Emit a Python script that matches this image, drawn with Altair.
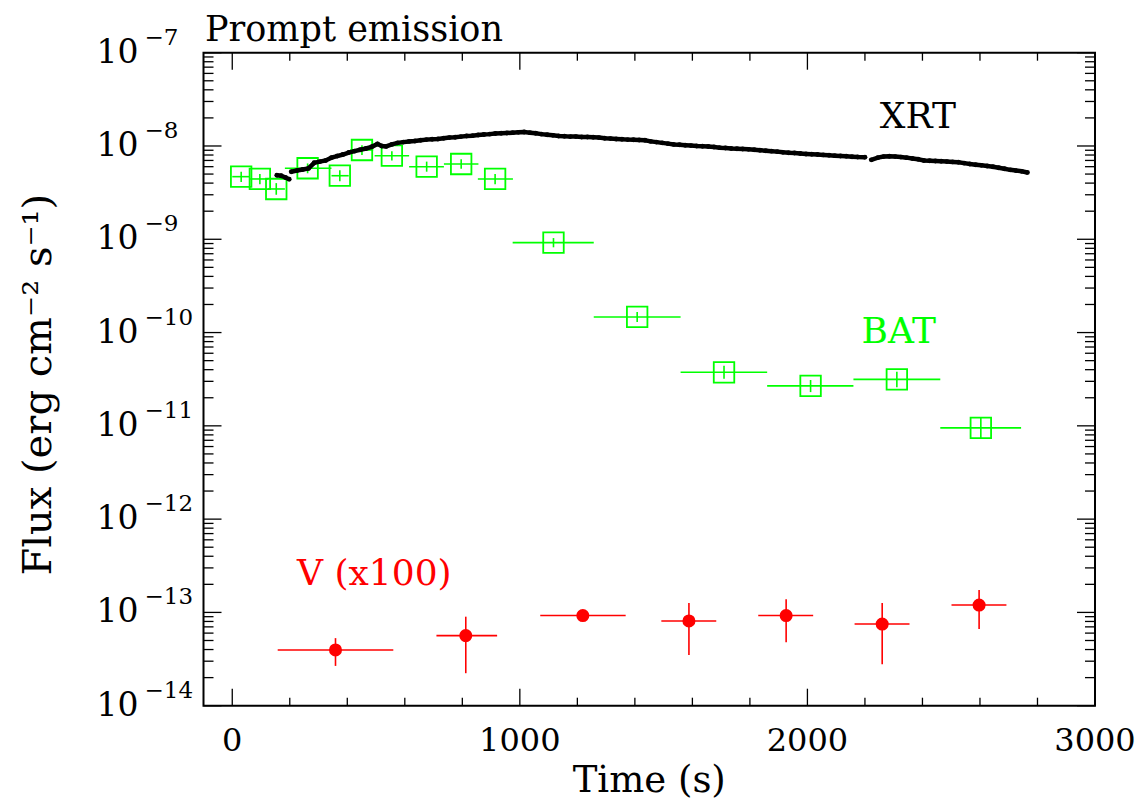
import altair as alt
import pandas as pd

# ---------------- data ----------------
# XRT light curve (time in s, flux in erg cm^-2 s^-1), seg = continuous piece
xrt_t = [155, 170, 185, 198,
         205, 225, 245, 265, 285, 305, 325, 345, 365, 385, 405, 425, 445, 465, 485,
         505, 520, 535, 555, 575, 595, 615, 635, 655, 675, 695, 715, 735, 755, 775,
         795, 815, 835, 855, 875, 895, 915, 935, 955, 975, 995, 1015, 1035, 1055,
         1075, 1095, 1115, 1135, 1155, 1175, 1195, 1215, 1235, 1255, 1275, 1295,
         1315, 1335, 1355, 1375, 1395, 1415, 1435, 1455, 1475, 1495, 1515, 1535,
         1555, 1575, 1595, 1615, 1635, 1655, 1675, 1695, 1715, 1735, 1755, 1775,
         1795, 1815, 1835, 1855, 1875, 1895, 1915, 1935, 1955, 1975, 1995, 2015,
         2035, 2055, 2075, 2095, 2115, 2135, 2155, 2175, 2200,
         2222, 2245, 2265, 2285, 2305, 2325, 2345, 2365, 2385, 2405, 2425, 2445,
         2465, 2485, 2505, 2525, 2545, 2565, 2585, 2605, 2625, 2645, 2665, 2685,
         2705, 2725, 2745, 2765]
xrt_f = [4.85e-9, 4.8e-9, 4.6e-9, 4.4e-9,
         5.3e-9, 5.45e-9, 5.6e-9, 5.75e-9, 6.6e-9, 6.8e-9, 7.0e-9, 7.5e-9, 7.8e-9,
         8.1e-9, 8.5e-9, 8.8e-9, 9.1e-9, 9.4e-9, 9.8e-9,
         1.05e-8, 1.0e-8, 9.9e-9, 1.04e-8, 1.08e-8, 1.10e-8, 1.12e-8, 1.13e-8,
         1.15e-8, 1.17e-8, 1.18e-8, 1.19e-8, 1.21e-8, 1.23e-8, 1.24e-8,
         1.26e-8, 1.28e-8, 1.29e-8, 1.31e-8, 1.33e-8, 1.34e-8, 1.36e-8, 1.37e-8,
         1.38e-8, 1.39e-8, 1.40e-8, 1.41e-8, 1.39e-8, 1.37e-8,
         1.34e-8, 1.32e-8, 1.30e-8, 1.28e-8, 1.27e-8, 1.26e-8, 1.26e-8, 1.25e-8,
         1.25e-8, 1.24e-8, 1.23e-8, 1.21e-8,
         1.20e-8, 1.19e-8, 1.18e-8, 1.17e-8, 1.165e-8, 1.16e-8, 1.15e-8, 1.12e-8,
         1.10e-8, 1.08e-8, 1.06e-8, 1.04e-8,
         1.03e-8, 1.02e-8, 1.01e-8, 1.0e-8, 9.95e-9, 9.88e-9, 9.75e-9, 9.6e-9,
         9.5e-9, 9.4e-9, 9.35e-9, 9.28e-9,
         9.2e-9, 9.1e-9, 9.0e-9, 8.9e-9, 8.8e-9, 8.7e-9, 8.55e-9, 8.45e-9,
         8.4e-9, 8.3e-9, 8.22e-9, 8.15e-9,
         8.1e-9, 8.02e-9, 7.95e-9, 7.88e-9, 7.82e-9, 7.75e-9, 7.68e-9, 7.62e-9, 7.58e-9,
         7.1e-9, 7.5e-9, 7.7e-9, 7.75e-9, 7.7e-9, 7.6e-9, 7.5e-9, 7.35e-9,
         7.2e-9, 7.0e-9, 6.95e-9, 6.9e-9,
         6.85e-9, 6.8e-9, 6.75e-9, 6.7e-9, 6.55e-9, 6.4e-9, 6.3e-9, 6.2e-9,
         6.1e-9, 6.0e-9, 5.85e-9, 5.7e-9,
         5.55e-9, 5.45e-9, 5.35e-9, 5.2e-9]
xrt_seg = [1] * 4 + [2] * 101 + [3] * 28

# BAT points
bat_t   = [31, 96, 153, 262, 374, 451, 555, 676, 796, 914, 1117, 1408, 1710, 2011, 2311, 2603]
bat_tlo = [0, 62, 125, 183, 345, 410, 495, 615, 736, 854, 975, 1257, 1559, 1860, 2160, 2462]
bat_thi = [62, 125, 183, 345, 405, 490, 615, 736, 856, 976, 1257, 1559, 1860, 2160, 2462, 2743]
bat_f   = [4.69e-9, 4.43e-9, 3.46e-9, 5.77e-9, 4.80e-9, 9.06e-9, 7.87e-9, 6.00e-9,
           6.41e-9, 4.43e-9, 9.2e-10, 1.47e-10, 3.75e-11, 2.68e-11, 3.15e-11, 9.5e-12]
bat_flo = [4.1e-9, 3.9e-9, 3.0e-9, 5.1e-9, 4.2e-9, 8.0e-9, 7.0e-9, 5.3e-9,
           5.7e-9, 3.9e-9, 8.2e-10, 1.3e-10, 3.2e-11, 2.3e-11, 2.6e-11, 7.4e-12]
bat_fhi = [5.3e-9, 5.0e-9, 4.0e-9, 6.5e-9, 5.5e-9, 1.02e-8, 8.8e-9, 6.8e-9,
           7.2e-9, 5.0e-9, 1.03e-9, 1.66e-10, 4.4e-11, 3.1e-11, 3.8e-11, 1.22e-11]

# V band (x100)
v_t   = [359, 812, 1219, 1588, 1926, 2260, 2597]
v_tlo = [158, 710, 1071, 1492, 1829, 2164, 2501]
v_thi = [560, 921, 1368, 1683, 2020, 2355, 2692]
v_f   = [3.96e-14, 5.64e-14, 9.25e-14, 8.1e-14, 9.25e-14, 7.5e-14, 1.2e-13]
v_flo = [2.67e-14, 2.23e-14, 8.6e-14, 3.5e-14, 4.8e-14, 2.79e-14, 6.65e-14]
v_fhi = [5.3e-14, 9.0e-14, 1.0e-13, 1.26e-13, 1.38e-13, 1.26e-13, 1.74e-13]

# annotations
lab_text = ["XRT", "BAT", "V (x100)"]
lab_t = [2384, 2318, 494]
lab_f = [1.56e-8, 7.8e-11, 1.97e-13]
lab_col = ["black", "#00ff00", "#ff0000"]

# axes
x_major = [0, 1000, 2000, 3000]
x_labels = ["0", "1000", "2000", "3000"]
x_minor = [200, 400, 600, 800, 1200, 1400, 1600, 1800, 2200, 2400, 2600, 2800]
y_exps = [-14, -13, -12, -11, -10, -9, -8, -7]
y_major = [1e-14, 1e-13, 1e-12, 1e-11, 1e-10, 1e-9, 1e-8, 1e-7]
y_minor_mult = [2, 3, 4, 5, 6, 7, 8, 9]
y_minor = [m * d for d in y_major[:-1] for m in y_minor_mult]

x_title = "Time (s)"
y_title = "Flux (erg cm\u207b\u00b2 s\u207b\u00b9)"
main_title = "Prompt emission"

# ---------------- chart ----------------
W, H = 891.5, 653
FONT = "DejaVu Serif"
GREEN = "#00ff00"
RED = "#ff0000"

xs = alt.Scale(domain=[-100, 3000], nice=False, zero=False)
ys = alt.Scale(type="log", domain=[1e-14, 1e-7], nice=False)

xrt = pd.DataFrame({"t": xrt_t, "f": xrt_f, "seg": xrt_seg})
bat = pd.DataFrame({"t": bat_t, "tlo": bat_tlo, "thi": bat_thi,
                    "f": bat_f, "flo": bat_flo, "fhi": bat_fhi})
vb = pd.DataFrame({"t": v_t, "tlo": v_tlo, "thi": v_thi,
                   "f": v_f, "flo": v_flo, "fhi": v_fhi})
labs = pd.DataFrame({"text": lab_text, "t": lab_t, "f": lab_f, "c": lab_col})
ylab = pd.DataFrame({"v": y_major,
                     "e": ["\u2212" + str(-e) for e in y_exps]})
xlab = pd.DataFrame({"v": x_major, "s": x_labels})


def X(field):
    return alt.X(field, scale=xs, axis=None)


def Y(field):
    return alt.Y(field, scale=ys, axis=None)


# BAT
bat_xerr = alt.Chart(bat).mark_rule(color=GREEN, strokeWidth=1.6).encode(
    x=X("tlo:Q"), x2="thi:Q", y=Y("f:Q"))
bat_yerr = alt.Chart(bat).mark_rule(color=GREEN, strokeWidth=1.6).encode(
    x=X("t:Q"), y=Y("flo:Q"), y2="fhi:Q")
bat_pts = alt.Chart(bat).mark_point(shape="square", size=420, filled=False,
                                    color=GREEN, strokeWidth=1.8, opacity=1).encode(
    x=X("t:Q"), y=Y("f:Q"))

# XRT
xrt_line = alt.Chart(xrt).mark_line(color="black", strokeWidth=4.5).encode(
    x=X("t:Q"), y=Y("f:Q"), detail="seg:N")
xrt_pts = alt.Chart(xrt).mark_circle(color="black", size=24, opacity=1).encode(
    x=X("t:Q"), y=Y("f:Q"))

# V
v_xerr = alt.Chart(vb).mark_rule(color=RED, strokeWidth=1.6).encode(
    x=X("tlo:Q"), x2="thi:Q", y=Y("f:Q"))
v_yerr = alt.Chart(vb).mark_rule(color=RED, strokeWidth=1.6).encode(
    x=X("t:Q"), y=Y("flo:Q"), y2="fhi:Q")
v_pts = alt.Chart(vb).mark_circle(color=RED, size=170, opacity=1).encode(
    x=X("t:Q"), y=Y("f:Q"))

# annotations
ann = alt.Chart(labs).mark_text(font=FONT, fontSize=36, align="center",
                                baseline="alphabetic").encode(
    x=X("t:Q"), y=Y("f:Q"), text="text:N",
    color=alt.Color("c:N", scale=None))

# y tick labels 10^e
ylab_base = alt.Chart(ylab).mark_text(font=FONT, fontSize=33, align="right",
                                      baseline="middle", color="black").encode(
    y=Y("v:Q"), x=alt.value(-65), text=alt.value("10"))
ylab_exp = alt.Chart(ylab).mark_text(font=FONT, fontSize=23, align="left",
                                     baseline="middle", dy=-15, color="black").encode(
    y=Y("v:Q"), x=alt.value(-59), text="e:N")

# x tick labels
xlab_txt = alt.Chart(xlab).mark_text(font=FONT, fontSize=32, align="center",
                                     baseline="alphabetic", color="black").encode(
    x=X("v:Q"), y=alt.value(H + 45), text="s:N")

# axis titles and chart title
tx = alt.Chart(pd.DataFrame({"s": [x_title]})).mark_text(
    font=FONT, fontSize=37, align="center", baseline="alphabetic", color="black").encode(
    x=alt.value(W / 2), y=alt.value(H + 86), text="s:N")
ty = alt.Chart(pd.DataFrame({"s": [y_title]})).mark_text(
    font=FONT, fontSize=40, align="center", baseline="alphabetic", angle=270,
    color="black").encode(
    x=alt.value(-153), y=alt.value(332), text="s:N")
title = alt.Chart(pd.DataFrame({"s": [main_title]})).mark_text(
    font=FONT, fontSize=35, align="left", baseline="alphabetic", color="black").encode(
    x=alt.value(1.5), y=alt.value(-11.7), text="s:N")

# inward ticks on all four sides
TK = dict(color="black", strokeWidth=1.3)


def yticks(vals, length):
    d = pd.DataFrame({"v": vals})
    left = alt.Chart(d).mark_rule(**TK).encode(
        y=Y("v:Q"), x=alt.value(0), x2=alt.value(length))
    right = alt.Chart(d).mark_rule(**TK).encode(
        y=Y("v:Q"), x=alt.value(W), x2=alt.value(W - length))
    return [left, right]


def xticks(vals, length):
    d = pd.DataFrame({"v": vals})
    bottom = alt.Chart(d).mark_rule(**TK).encode(
        x=X("v:Q"), y=alt.value(H), y2=alt.value(H - length))
    top = alt.Chart(d).mark_rule(**TK).encode(
        x=X("v:Q"), y=alt.value(0), y2=alt.value(length))
    return [bottom, top]


ticks = yticks(y_major, 18) + yticks(y_minor, 10) + xticks(x_major, 17) + xticks(x_minor, 8)

chart = alt.layer(
    bat_xerr, bat_yerr, bat_pts, xrt_line, xrt_pts, v_xerr, v_yerr, v_pts,
    ann, ylab_base, ylab_exp, xlab_txt, tx, ty, title, *ticks
).properties(
    width=W, height=H,
    autosize=alt.AutoSizeParams(type="none"),
    padding={"left": 195.5, "top": 44.7, "right": 41, "bottom": 95.3},
).configure(
    background="white",
    view=alt.ViewConfig(stroke="black", strokeWidth=2),
)

chart.save("out.html", embed_options={"renderer": "svg", "actions": False})
